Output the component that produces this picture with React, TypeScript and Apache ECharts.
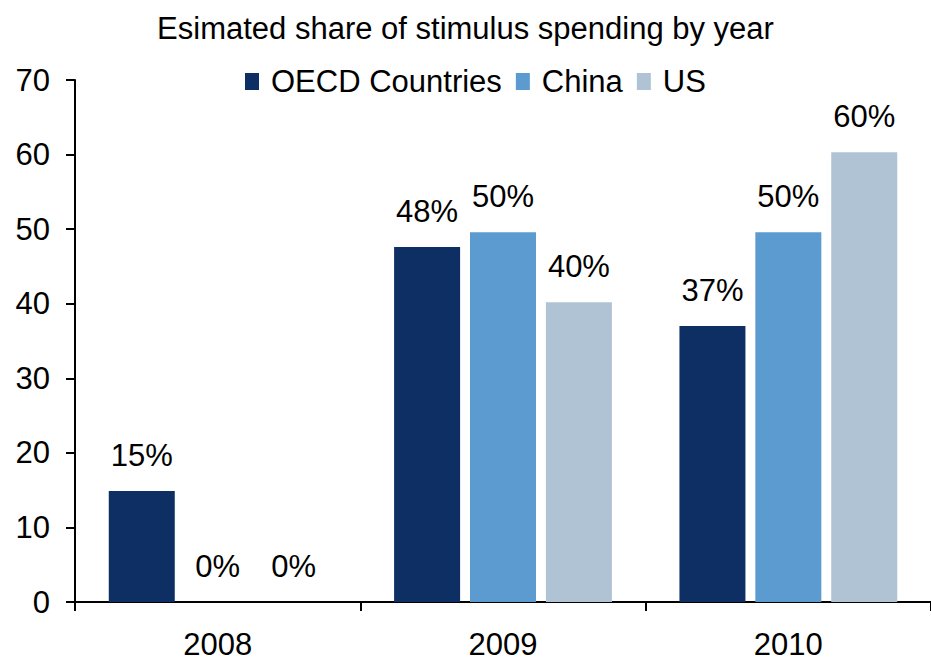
import React, { useEffect, useRef } from "react";
import * as echarts from "echarts";

const years = ["2008", "2009", "2010"];
const oecd = [14.9, 47.6, 37.0];
const china = [0, 49.6, 49.6];
const us = [0, 40.2, 60.3];
const seriesNames = ["OECD Countries", "China", "US"];
const colors = ["#0E2F63", "#5B9BCF", "#AFC3D4"];

const FONT = "Liberation Sans, Arial, sans-serif";

export default function App() {
  const ref = useRef<HTMLDivElement>(null);
  useEffect(() => {
    if (!ref.current) return;
    const chart = echarts.init(ref.current, undefined, { renderer: "svg" });
    const data = [oecd, china, us];
    chart.setOption({
      animation: false,
      textStyle: { fontFamily: FONT, color: "#000" },
      title: {
        text: "Esimated share of stimulus spending by year",
        left: "center",
        top: 8,
        textStyle: { fontFamily: FONT, fontSize: 31, fontWeight: "normal", color: "#000" },
      },
      legend: {
        top: 61,
        left: 240,
        itemWidth: 14,
        itemHeight: 17,
        itemGap: 14,
        icon: "rect",
        textStyle: { fontFamily: FONT, fontSize: 31, color: "#000", padding: [0, 0, 0, 7] },
        data: seriesNames,
      },
      grid: { left: 75, right: -2, top: 80, bottom: 61, containLabel: false },
      xAxis: {
        type: "category",
        data: years,
        axisLine: { lineStyle: { color: "#000", width: 2 } },
        axisTick: { show: true, length: 9, lineStyle: { color: "#000", width: 2 } },
        axisLabel: { fontFamily: FONT, fontSize: 31, color: "#000", margin: 27 },
      },
      yAxis: {
        type: "value",
        min: 0,
        max: 70,
        interval: 10,
        splitLine: { show: false },
        axisLine: { show: true, lineStyle: { color: "#000", width: 2 } },
        axisTick: { show: true, length: 9, lineStyle: { color: "#000", width: 2 } },
        axisLabel: { fontFamily: FONT, fontSize: 31, color: "#000", margin: 25 },
      },
      series: seriesNames.map((name, i) => ({
        name,
        type: "bar",
        data: data[i],
        barWidth: 66,
        barGap: "15%",
        itemStyle: { color: colors[i] },
        label: {
          show: true,
          position: "top",
          distance: 20,
          fontFamily: FONT,
          fontSize: 31,
          color: "#000",
          formatter: (p: any) => Math.round(p.value) + "%",
        },
      })),
    });
    return () => chart.dispose();
  }, []);
  return <div ref={ref} style={{ width: 931, height: 663, position: "absolute", left: 0, top: 0 }} />;
}
